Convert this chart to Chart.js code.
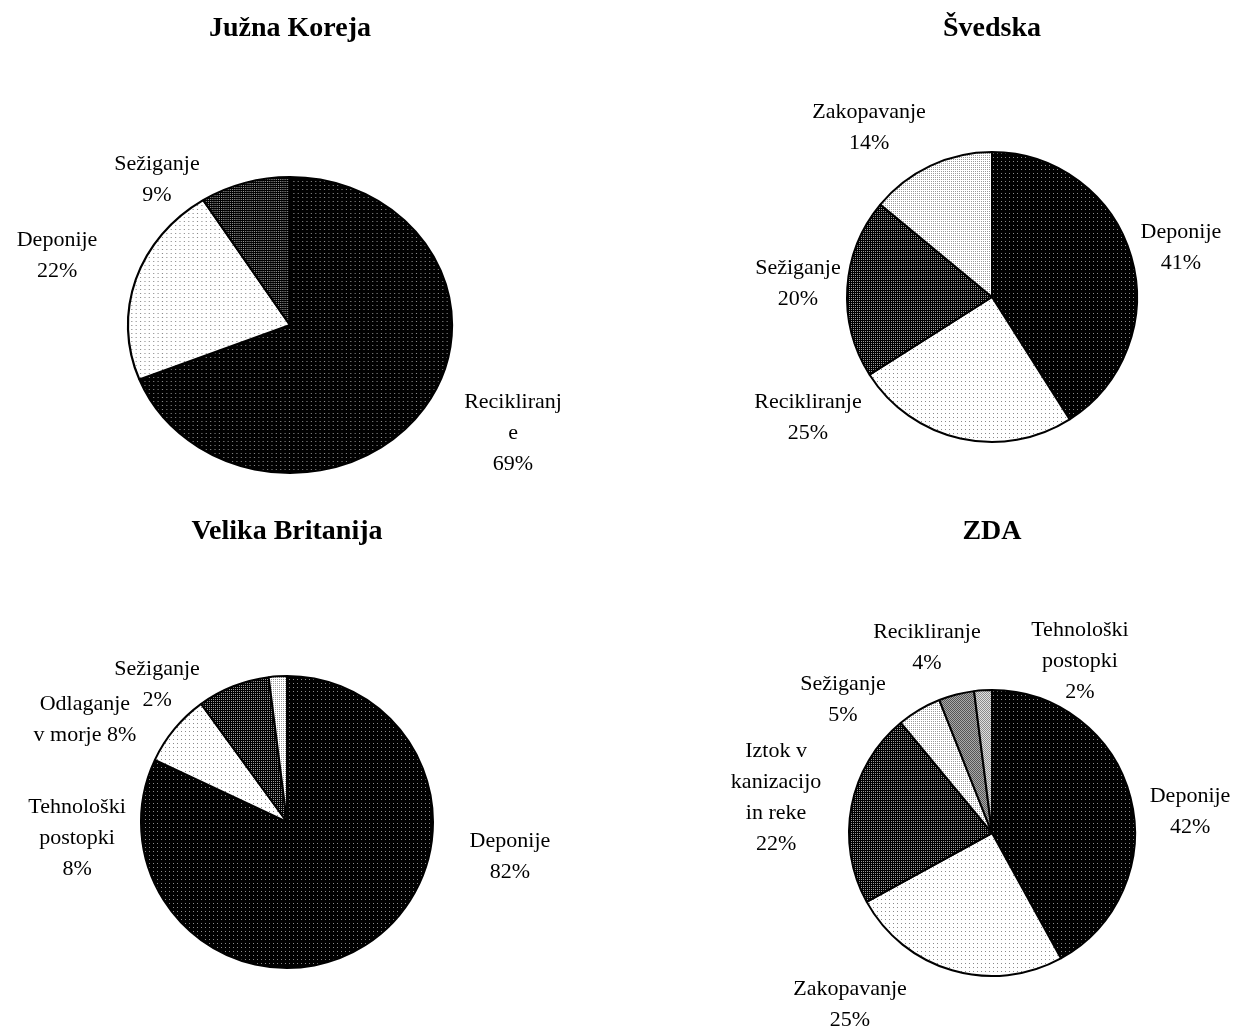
<!DOCTYPE html>
<html>
<head>
<meta charset="utf-8">
<script src="https://cdn.jsdelivr.net/npm/chart.js@4.4.1/dist/chart.umd.min.js"></script>
<style>
  body { margin: 0; background: #fff; }
  #wrap { position: relative; width: 1240px; height: 1028px; }
  .box { position: absolute; width: 620px; height: 514px; }
</style>
</head>
<body>
<div id="wrap">
  <div class="box" style="left:0;top:0"><canvas id="c1"></canvas></div>
  <div class="box" style="left:620px;top:0"><canvas id="c2"></canvas></div>
  <div class="box" style="left:0;top:514px"><canvas id="c3"></canvas></div>
  <div class="box" style="left:620px;top:514px"><canvas id="c4"></canvas></div>
</div>
<script>
// podatki (odstotki)
const koreja = ['Recikliranje', 'Deponije', 'Sežiganje'];
const korejaVal = [69, 22, 9];
const korejaLines = [['Recikliranj', 'e', '{p}'], ['Deponije', '{p}'], ['Sežiganje', '{p}']];

const svedska = ['Deponije', 'Recikliranje', 'Sežiganje', 'Zakopavanje'];
const svedskaVal = [41, 25, 20, 14];
const svedskaLines = [['Deponije', '{p}'], ['Recikliranje', '{p}'], ['Sežiganje', '{p}'], ['Zakopavanje', '{p}']];

const britanija = ['Deponije', 'Tehnološki postopki', 'Odlaganje v morje', 'Sežiganje'];
const britanijaVal = [82, 8, 8, 2];
const britanijaLines = [['Deponije', '{p}'], ['Tehnološki', 'postopki', '{p}'], ['Odlaganje', 'v morje {p}'], ['Sežiganje', '{p}']];

const zda = ['Deponije', 'Zakopavanje', 'Iztok v kanizacijo in reke', 'Sežiganje', 'Recikliranje', 'Tehnološki postopki'];
const zdaVal = [42, 25, 22, 5, 4, 2];
const zdaLines = [['Deponije', '{p}'], ['Zakopavanje', '{p}'], ['Iztok v', 'kanizacijo', 'in reke', '{p}'], ['Sežiganje', '{p}'], ['Recikliranje', '{p}'], ['Tehnološki', 'postopki', '{p}']];

const pisava = '"Liberation Serif", "Times New Roman", serif';

// vzorci za polnila
function vzorec(size, bg, dots) {
  const c = document.createElement('canvas');
  c.width = size; c.height = size;
  const x = c.getContext('2d');
  x.fillStyle = bg;
  x.fillRect(0, 0, size, size);
  dots.forEach(d => { x.fillStyle = d[2]; x.fillRect(d[0], d[1], 1, 1); });
  return x.createPattern(c, 'repeat');
}
const vz = {
  temnePike: vzorec(4, '#000', [[1, 1, '#8a8a8a']]),
  svetlePike: vzorec(4, '#fff', [[1, 1, '#8a8a8a']]),
  temnaMreza: vzorec(2, '#000', [[1, 1, '#9a9a9a']]),
  svetlaMreza: vzorec(2, '#fff', [[1, 1, '#9a9a9a']]),
  sivo: vzorec(2, '#555', [[1, 0, '#aaa'], [0, 1, '#aaa']]),
  svetloSivo: vzorec(2, '#8c8c8c', [[1, 0, '#e0e0e0'], [0, 1, '#e0e0e0']])
};

// risanje oznak ob izsekih
const oznake = {
  id: 'oznake',
  beforeDatasetsDraw(chart, args, opts) {
    const arc = chart.getDatasetMeta(0).data[0];
    const ctx = chart.ctx;
    ctx.save();
    ctx.translate(arc.x, arc.y);
    ctx.scale(opts.sx || 1, 1);
    ctx.translate(-arc.x, -arc.y);
  },
  afterDatasetsDraw(chart) {
    chart.ctx.restore();
  },
  afterDraw(chart, args, opts) {
    const ctx = chart.ctx;
    const meta = chart.getDatasetMeta(0);
    const vals = chart.data.datasets[0].data;
    ctx.save();
    ctx.fillStyle = '#000';
    ctx.font = '22px ' + pisava;
    ctx.textAlign = 'center';
    ctx.textBaseline = 'middle';
    meta.data.forEach((arc, i) => {
      const r = arc.outerRadius;
      const x = arc.x + opts.pos[i][0] * r;
      const y = arc.y + opts.pos[i][1] * r;
      const lines = opts.lines[i].map(t => t.replace('{p}', vals[i] + '%'));
      const top = y - (lines.length - 1) * 31 / 2;
      lines.forEach((t, k) => ctx.fillText(t, x, top + k * 31));
    });
    ctx.restore();
  }
};

function narisi(id, naslov, labels, vals, lines, fills, r, pad, tpad, pos, sx) {
  new Chart(document.getElementById(id), {
    type: 'pie',
    data: {
      labels: labels,
      datasets: [{
        data: vals,
        backgroundColor: fills.map(f => vz[f]),
        borderColor: '#000',
        borderWidth: 2,
        radius: r
      }]
    },
    options: {
      responsive: true,
      maintainAspectRatio: false,
      animation: false,
      layout: { padding: pad },
      plugins: {
        legend: { display: false },
        tooltip: { enabled: false },
        title: {
          display: true,
          text: naslov,
          fullSize: false,
          color: '#000',
          font: { family: pisava, size: 28, weight: 'bold', lineHeight: '30px' },
          padding: tpad
        },
        oznake: { lines: lines, pos: pos, sx: sx }
      }
    },
    plugins: [oznake]
  });
}

narisi('c1', 'Južna Koreja', koreja, korejaVal, korejaLines,
  ['temnePike', 'svetlePike', 'temnaMreza'], 148,
  { left: 0, right: 40, top: 0, bottom: 14 }, { top: 14, bottom: 106 },
  [[1.507, 0.73], [-1.574, -0.466], [-0.899, -0.98]], 1.095);

narisi('c2', 'Švedska', svedska, svedskaVal, svedskaLines,
  ['temnePike', 'svetlePike', 'temnaMreza', 'svetlaMreza'], 145,
  { left: 124, right: 0, top: 0, bottom: 20 }, { top: 14, bottom: 56 },
  [[1.303, -0.338], [-1.269, 0.834], [-1.338, -0.09], [-0.848, -1.166]], 1);

narisi('c3', 'Velika Britanija', britanija, britanijaVal, britanijaLines,
  ['temnePike', 'svetlePike', 'temnaMreza', 'svetlaMreza'], 146,
  { left: 0, right: 46, top: 0, bottom: 28 }, { top: 3, bottom: 97 },
  [[1.527, 0.24], [-1.438, 0.11], [-1.384, -0.699], [-0.89, -0.938]], 1);

narisi('c4', 'ZDA', zda, zdaVal, zdaLines,
  ['temnePike', 'svetlePike', 'temnaMreza', 'svetlaMreza', 'sivo', 'svetloSivo'], 143,
  { left: 124, right: 0, top: 0, bottom: 16 }, { top: 3, bottom: 107 },
  [[1.385, -0.147], [-0.993, 1.203], [-1.51, -0.245], [-1.042, -0.93], [-0.455, -1.294], [0.615, -1.203]], 1);
</script>
</body>
</html>
